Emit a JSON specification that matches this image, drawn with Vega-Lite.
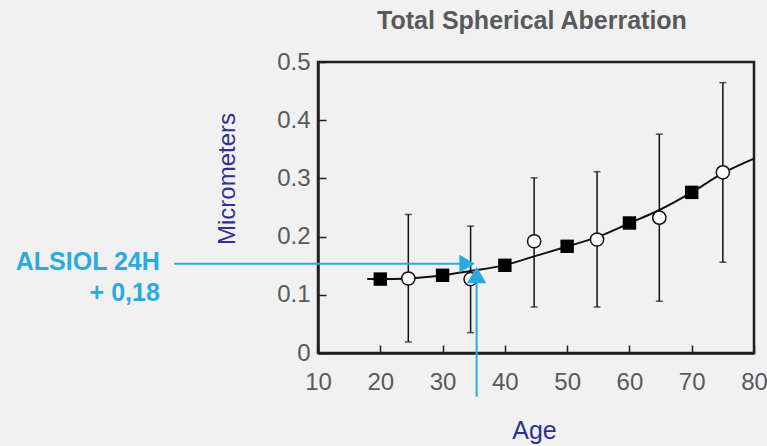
{
  "$schema": "https://vega.github.io/schema/vega-lite/v6.json",
  "autosize": {"type": "none"},
  "width": 436,
  "height": 291,
  "padding": {"left": 318, "top": 62, "right": 13, "bottom": 93},
  "background": "#f1f1f1",
  "config": {
    "font": "Liberation Sans",
    "view": {"stroke": "#231f20", "strokeWidth": 2.5}
  },
  "title": {
    "text": "Total Spherical Aberration",
    "fontSize": 25,
    "fontWeight": "bold",
    "color": "#58595b",
    "font": "Liberation Sans",
    "anchor": "middle",
    "frame": "group",
    "baseline": "bottom",
    "offset": 28,
    "dx": -4,
    "dy": 37
  },
  "datasets": {
    "curve": [
      {"age": 17.9, "value": 0.127},
      {"age": 20, "value": 0.127},
      {"age": 24.5, "value": 0.128},
      {"age": 30, "value": 0.1335},
      {"age": 34.5, "value": 0.141},
      {"age": 40, "value": 0.151},
      {"age": 44.7, "value": 0.166},
      {"age": 50, "value": 0.183},
      {"age": 54.8, "value": 0.199},
      {"age": 60, "value": 0.223},
      {"age": 64.8, "value": 0.2457},
      {"age": 70, "value": 0.276},
      {"age": 75, "value": 0.309},
      {"age": 80, "value": 0.334}
    ],
    "squares": [
      {"age": 20, "value": 0.127},
      {"age": 30, "value": 0.1335},
      {"age": 40, "value": 0.1507},
      {"age": 50, "value": 0.1833},
      {"age": 60, "value": 0.2234},
      {"age": 70, "value": 0.276}
    ],
    "circles": [
      {"age": 24.5, "value": 0.128, "lo": 0.019, "hi": 0.238},
      {"age": 34.5, "value": 0.127, "lo": 0.035, "hi": 0.218},
      {"age": 44.7, "value": 0.192, "lo": 0.079, "hi": 0.301},
      {"age": 54.8, "value": 0.195, "lo": 0.079, "hi": 0.3115},
      {"age": 64.8, "value": 0.2325, "lo": 0.089, "hi": 0.376},
      {"age": 75, "value": 0.3105, "lo": 0.156, "hi": 0.4645}
    ],
    "arrows": [
      {"age": -13.1, "age2": 34.5, "value": 0.1534, "value2": 0.1534},
      {"age": 35.47, "age2": 35.47, "value": -0.075, "value2": 0.14}
    ],
    "headRight": [{"age": 33.95, "value": 0.1534}],
    "headUp": [{"age": 35.47, "value": 0.134}],
    "labels": [
      {"age": -15.4, "value": 0.1569, "label": "ALSIOL 24H"},
      {"age": -15.4, "value": 0.1026, "label": "+ 0,18"}
    ]
  },
  "layer": [
    {
      "data": {"name": "curve"},
      "mark": {"type": "line", "color": "#111111", "strokeWidth": 2, "interpolate": "monotone"},
      "encoding": {
        "x": {
          "field": "age",
          "type": "quantitative",
          "title": "Age",
          "scale": {"domain": [10, 80], "nice": false, "zero": false},
          "axis": {
            "values": [10, 20, 30, 40, 50, 60, 70, 80],
            "grid": false,
            "domainColor": "#231f20",
            "domainWidth": 2.5,
            "tickColor": "#231f20",
            "tickWidth": 1.5,
            "tickSize": -8,
            "labelPadding": 25,
            "labelFont": "Liberation Sans",
            "labelFontSize": 24,
            "labelColor": "#58595b",
            "labelFlush": false,
            "labelOverlap": false,
            "titleFont": "Liberation Sans",
            "titleFontSize": 25,
            "titleFontWeight": "normal",
            "titleColor": "#2e3192",
            "titleX": 216,
            "titleY": 77,
            "titleAlign": "center",
            "titleBaseline": "middle"
          }
        },
        "y": {
          "field": "value",
          "type": "quantitative",
          "title": "Micrometers",
          "scale": {"domain": [0, 0.5], "nice": false},
          "axis": {
            "values": [0, 0.1, 0.2, 0.3, 0.4, 0.5],
            "labelExpr": "datum.value === 0 ? '0' : format(datum.value, '.1f')",
            "grid": false,
            "domainColor": "#231f20",
            "domainWidth": 2.5,
            "tickColor": "#231f20",
            "tickWidth": 1.5,
            "tickSize": -8,
            "labelPadding": 16,
            "labelFont": "Liberation Sans",
            "labelFontSize": 24,
            "labelColor": "#58595b",
            "labelFlush": false,
            "labelOverlap": false,
            "titleFont": "Liberation Sans",
            "titleFontSize": 24,
            "titleFontWeight": "normal",
            "titleColor": "#2e3192",
            "titleAngle": -90,
            "titleX": -91,
            "titleY": 116.5,
            "titleAlign": "center",
            "titleBaseline": "middle"
          }
        }
      }
    },
    {
      "data": {"name": "circles"},
      "mark": {"type": "errorbar", "color": "#111111", "thickness": 1.5, "ticks": {"size": 7}},
      "encoding": {
        "x": {"field": "age", "type": "quantitative", "title": "Age"},
        "y": {"field": "lo", "type": "quantitative", "title": "Micrometers"},
        "y2": {"field": "hi"}
      }
    },
    {
      "data": {"name": "circles"},
      "mark": {"type": "point", "shape": "circle", "filled": false, "fill": "white", "fillOpacity": 1, "stroke": "#111111", "strokeWidth": 1.5, "size": 175, "opacity": 1},
      "encoding": {
        "x": {"field": "age", "type": "quantitative", "title": "Age"},
        "y": {"field": "value", "type": "quantitative", "title": "Micrometers"}
      }
    },
    {
      "data": {"name": "squares"},
      "mark": {"type": "point", "shape": "square", "filled": true, "color": "#000000", "size": 180, "opacity": 1},
      "encoding": {
        "x": {"field": "age", "type": "quantitative", "title": "Age"},
        "y": {"field": "value", "type": "quantitative", "title": "Micrometers"}
      }
    },
    {
      "data": {"name": "arrows"},
      "mark": {"type": "rule", "color": "#29abe2", "strokeWidth": 2},
      "encoding": {
        "x": {"field": "age", "type": "quantitative", "title": "Age"},
        "x2": {"field": "age2"},
        "y": {"field": "value", "type": "quantitative", "title": "Micrometers"},
        "y2": {"field": "value2"}
      }
    },
    {
      "data": {"name": "headRight"},
      "mark": {"type": "point", "shape": "triangle-right", "filled": true, "color": "#29abe2", "size": 324, "opacity": 1},
      "encoding": {
        "x": {"field": "age", "type": "quantitative", "title": "Age"},
        "y": {"field": "value", "type": "quantitative", "title": "Micrometers"}
      }
    },
    {
      "data": {"name": "headUp"},
      "mark": {"type": "point", "shape": "triangle-up", "filled": true, "color": "#29abe2", "size": 372, "opacity": 1},
      "encoding": {
        "x": {"field": "age", "type": "quantitative", "title": "Age"},
        "y": {"field": "value", "type": "quantitative", "title": "Micrometers"}
      }
    },
    {
      "data": {"name": "labels"},
      "mark": {"type": "text", "align": "right", "baseline": "middle", "font": "Liberation Sans", "fontSize": 25, "fontWeight": "bold", "color": "#29abe2"},
      "encoding": {
        "x": {"field": "age", "type": "quantitative", "title": "Age"},
        "y": {"field": "value", "type": "quantitative", "title": "Micrometers"},
        "text": {"field": "label"}
      }
    }
  ]
}
